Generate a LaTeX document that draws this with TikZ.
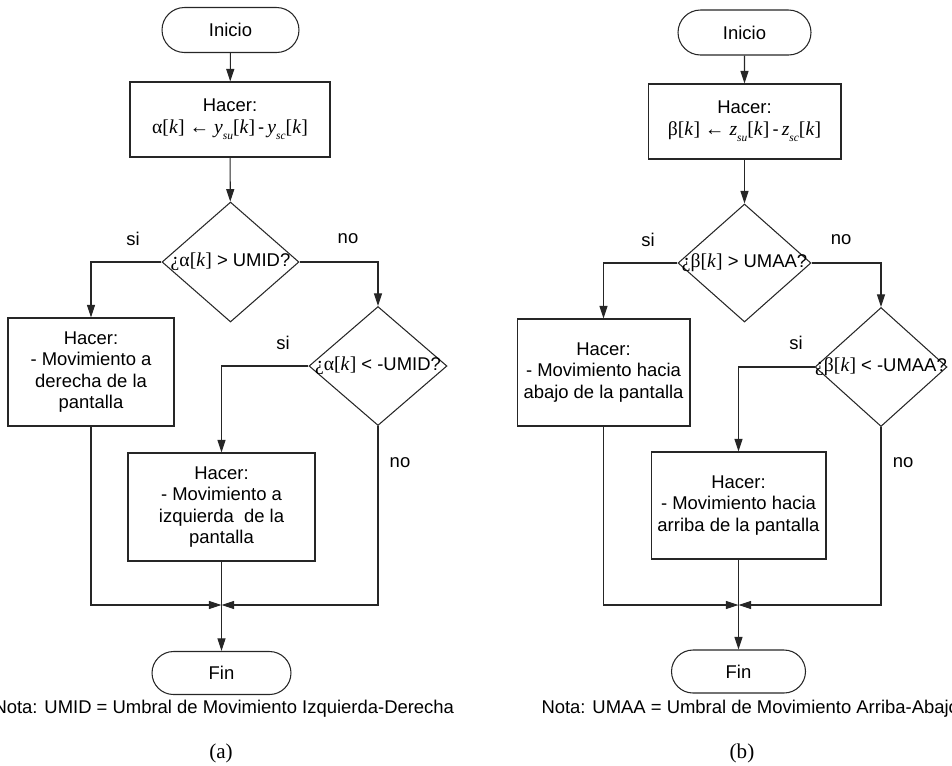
\documentclass[tikz,border=0pt]{standalone}
\usepackage{fontspec}
\setmainfont{Liberation Sans}
\newfontfamily\timesf{Liberation Serif}
\usetikzlibrary{shapes.geometric,shapes.misc,arrows.meta}
\newcommand\subidx[1]{\raisebox{-0.7ex}{\fontsize{6.5}{7}\selectfont\itshape #1}}
\newcommand\kk{\textit{k}}
\tikzset{
    every node/.style={font=\fontsize{10.5}{12.1}\selectfont},
    terminal/.style={draw=black!85, rounded rectangle, minimum height=0.9cm, inner sep=0pt},
    proceso/.style={draw=black!85, rectangle, align=center, inner sep=0pt},
    decision/.style={draw=black!85, diamond, inner sep=0pt},
    linea/.style={draw=black!85},
    flecha/.style={linea, -{Triangle[length=7.2pt,width=4.6pt]}},
    nota/.style={anchor=base west, inner sep=0pt},
    titulo/.style={font=\fontsize{12}{14}\selectfont\timesf}
}

\begin{document}
\begin{tikzpicture}[x=0.02cm,y=-0.02cm,line width=0.6pt]
    \useasboundingbox (0,0) rectangle (952,765);
    \begin{scope} % (a) izquierda-derecha
        \node[terminal, minimum width=2.74cm] (inicioA) at (230.5,30) {Inicio};
        \node[proceso, minimum width=4cm, minimum height=1.5cm] (hacerA) at (230,119.5)
            {Hacer:\\{\timesf\fontsize{11.2}{12.1}\selectfont α[\kk] ←\ \textit{y}\subidx{su}[\kk]}\,-\,{\timesf\fontsize{11.2}{12.1}\selectfont\textit{y}\subidx{sc}[\kk]}};
        \node[decision, minimum width=2.74cm, minimum height=2.4cm] (condA1) at (230.5,262) {};
        \node (preguntaA1) at (condA1) {{\timesf\fontsize{11.2}{12.1}\selectfont ¿α[\kk]} > UMID?};
        \node[proceso, minimum width=3.32cm, minimum height=2.16cm] (derechaA) at (91,372)
            {Hacer:\\- Movimiento a\\derecha de la\\pantalla};
        \node[decision, minimum width=2.76cm, minimum height=2.38cm] (condA2) at (378,366) {};
        \node (preguntaA2) at (condA2) {{\timesf\fontsize{11.2}{12.1}\selectfont ¿α[\kk]} < -UMID?};
        \node[proceso, minimum width=3.74cm, minimum height=2.16cm] (izquierdaA) at (221.5,507)
            {Hacer:\\- Movimiento a\\izquierda~ de la\\pantalla};
        \node[terminal, minimum width=2.78cm, minimum height=0.86cm] (finA) at (221.5,673) {Fin};
        \coordinate (uneA) at (221.5,605);
        \node (siA1) at (133,239) {si};
        \node (noA1) at (348,239) {no};
        \node (siA2) at (283,343) {si};
        \node (noA2) at (400,463) {no};
        \draw[flecha] (inicioA) -- (hacerA);
        \draw[flecha] (hacerA) -- (condA1);
        \draw[flecha] (condA1.west) -| (derechaA.north);
        \draw[flecha] (condA1.east) -| (condA2.north);
        \draw[flecha] (condA2.west) -| (izquierdaA.north);
        \draw[flecha] (derechaA.south) |- (uneA);
        \draw[flecha] (condA2.south) |- (uneA);
        \draw[flecha] (izquierdaA.south) -- (finA.north);
        \node[nota] (notaA) at (-7,713) {Nota: UMID = Umbral de Movimiento Izquierda-Derecha};
        \node[titulo] (leyendaA) at (221,753) {(a)};
    \end{scope}
    \begin{scope} % (b) arriba-abajo
        \node[terminal, minimum width=2.66cm] (inicioB) at (744.5,32.5) {Inicio};
        \node[proceso, minimum width=3.86cm, minimum height=1.5cm] (hacerB) at (744.5,121.5)
            {Hacer:\\{\timesf\fontsize{11.2}{12.1}\selectfont β[\kk] ←\ \textit{z}\subidx{su}[\kk]}\,-\,{\timesf\fontsize{11.2}{12.1}\selectfont\textit{z}\subidx{sc}[\kk]}};
        \node[decision, minimum width=2.66cm, minimum height=2.36cm] (condB1) at (744.5,263) {};
        \node (preguntaB1) at (condB1) {{\timesf\fontsize{11.2}{12.1}\selectfont ¿β[\kk]} > UMAA?};
        \node[proceso, minimum width=3.46cm, minimum height=2.14cm] (abajoB) at (603.5,372.5)
            {Hacer:\\- Movimiento hacia\\abajo de la pantalla};
        \node[decision, minimum width=2.64cm, minimum height=2.38cm] (condB2) at (881,367) {};
        \node (preguntaB2) at (condB2) {{\timesf\fontsize{11.2}{12.1}\selectfont ¿β[\kk]} < -UMAA?};
        \node[proceso, minimum width=3.5cm, minimum height=2.14cm] (arribaB) at (738.5,505.5)
            {Hacer:\\- Movimiento hacia\\arriba de la pantalla};
        \node[terminal, minimum width=2.68cm, minimum height=0.86cm] (finB) at (738.5,671.5) {Fin};
        \coordinate (uneB) at (738.5,605);
        \node (siB1) at (648,240) {si};
        \node (noB1) at (841,240) {no};
        \node (siB2) at (796,343) {si};
        \node (noB2) at (903,463) {no};
        \draw[flecha] (inicioB) -- (hacerB);
        \draw[flecha] (hacerB) -- (condB1);
        \draw[flecha] (condB1.west) -| (abajoB.north);
        \draw[flecha] (condB1.east) -| (condB2.north);
        \draw[flecha] (condB2.west) -| (arribaB.north);
        \draw[flecha] (abajoB.south) |- (uneB);
        \draw[flecha] (condB2.south) |- (uneB);
        \draw[flecha] (arribaB.south) -- (finB.north);
        \node[nota] (notaB) at (541,713) {Nota: UMAA = Umbral de Movimiento Arriba-Abajo};
        \node[titulo] (leyendaB) at (742,753) {(b)};
    \end{scope}
\end{tikzpicture}
\end{document}
